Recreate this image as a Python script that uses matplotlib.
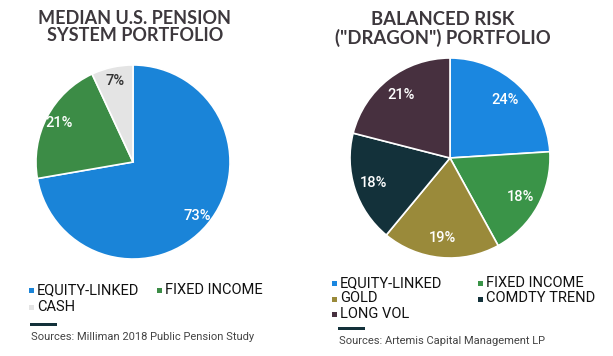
import matplotlib
matplotlib.use("Agg")
import matplotlib.pyplot as plt
from matplotlib.patches import Rectangle

# left chart: median pension portfolio
pension_labels = ["EQUITY-LINKED", "FIXED INCOME", "CASH"]
pension_values = [73, 21, 7]
pension_colors = ["#1a84d8", "#3c8c46", "#e4e4e4"]
pension_text = ["white", "white", "#333333"]

# right chart: dragon portfolio
dragon_labels = ["EQUITY-LINKED", "FIXED INCOME", "GOLD", "COMDTY TREND", "LONG VOL"]
dragon_values = [24, 18, 19, 18, 21]
dragon_colors = ["#1b87e0", "#3a9448", "#9a8a3a", "#13313a", "#47303f"]

W, H = 613, 356
fig = plt.figure(figsize=(W / 100, H / 100), dpi=100)
fig.patch.set_facecolor("white")

title_color = "#3d383d"
title_font = ["Lato", "DejaVu Sans"]
body_font = ["Roboto", "DejaVu Sans"]


def fx(px):
    return px / W


def fy(py):
    return 1 - py / H


def draw_pie(cx, cy, r, values, colors, txt_colors, pctdist):
    ax = fig.add_axes([fx(cx - r), fy(cy + r), 2 * r / W, 2 * r / H])
    vals = iter(values)
    wedges, texts, autotexts = ax.pie(
        values, colors=colors, startangle=90, counterclock=False,
        autopct=lambda p: "%d%%" % next(vals), pctdistance=pctdist,
        wedgeprops=dict(edgecolor="white", linewidth=1.2))
    for t, c in zip(autotexts, txt_colors):
        t.set_color(c)
        t.set_fontsize(10.5)
        t.set_fontweight("medium")
        t.set_family(body_font)
    ax.set_xlim(-1.01, 1.01)
    ax.set_ylim(-1.01, 1.01)
    ax.set_aspect("equal")
    return ax


draw_pie(133, 162, 98, pension_values, pension_colors, pension_text, 0.86)
draw_pie(450, 158, 101, dragon_values, dragon_colors, ["white"] * 5, 0.8)

# titles
fig.text(fx(135), fy(27), "MEDIAN U.S. PENSION\nSYSTEM PORTFOLIO", ha="center",
         va="center", fontsize=13, fontweight="bold", color=title_color,
         family=title_font, linespacing=1.05)
fig.text(fx(443), fy(29), "BALANCED RISK\n(\"DRAGON\") PORTFOLIO", ha="center",
         va="center", fontsize=13.3, fontweight="bold", color=title_color,
         family=title_font, linespacing=1.05)


def draw_legend(labels, colors, x0, col_dx, y0, row_dy):
    for i, (lab, col) in enumerate(zip(labels, colors)):
        x = x0 + (i % 2) * col_dx
        y = y0 + (i // 2) * row_dy
        fig.patches.append(Rectangle((fx(x), fy(y + 3)), 5 / W, 5 / H,
                                     transform=fig.transFigure, facecolor=col,
                                     edgecolor="none"))
        fig.text(fx(x + 8), fy(y), lab, ha="left", va="center", fontsize=10.5,
                 color="#111111", family=body_font)


draw_legend(pension_labels, pension_colors, 29, 128, 290, 17)
draw_legend(dragon_labels, dragon_colors, 332, 146, 283, 15.5)

# underline bars and sources
for x0, y0 in [(30, 324), (338, 328)]:
    fig.patches.append(Rectangle((fx(x0), fy(y0 + 1.5)), 27 / W, 3 / H,
                                 transform=fig.transFigure, facecolor="#13313a",
                                 edgecolor="none"))
fig.text(fx(31), fy(337), "Sources: Milliman 2018 Public Pension Study",
         ha="left", va="center", fontsize=8, color="#444444", family=body_font)
fig.text(fx(339), fy(341), "Sources: Artemis Capital Management LP",
         ha="left", va="center", fontsize=8, color="#444444", family=body_font)

fig.savefig("out.png", dpi=100, facecolor="white")
